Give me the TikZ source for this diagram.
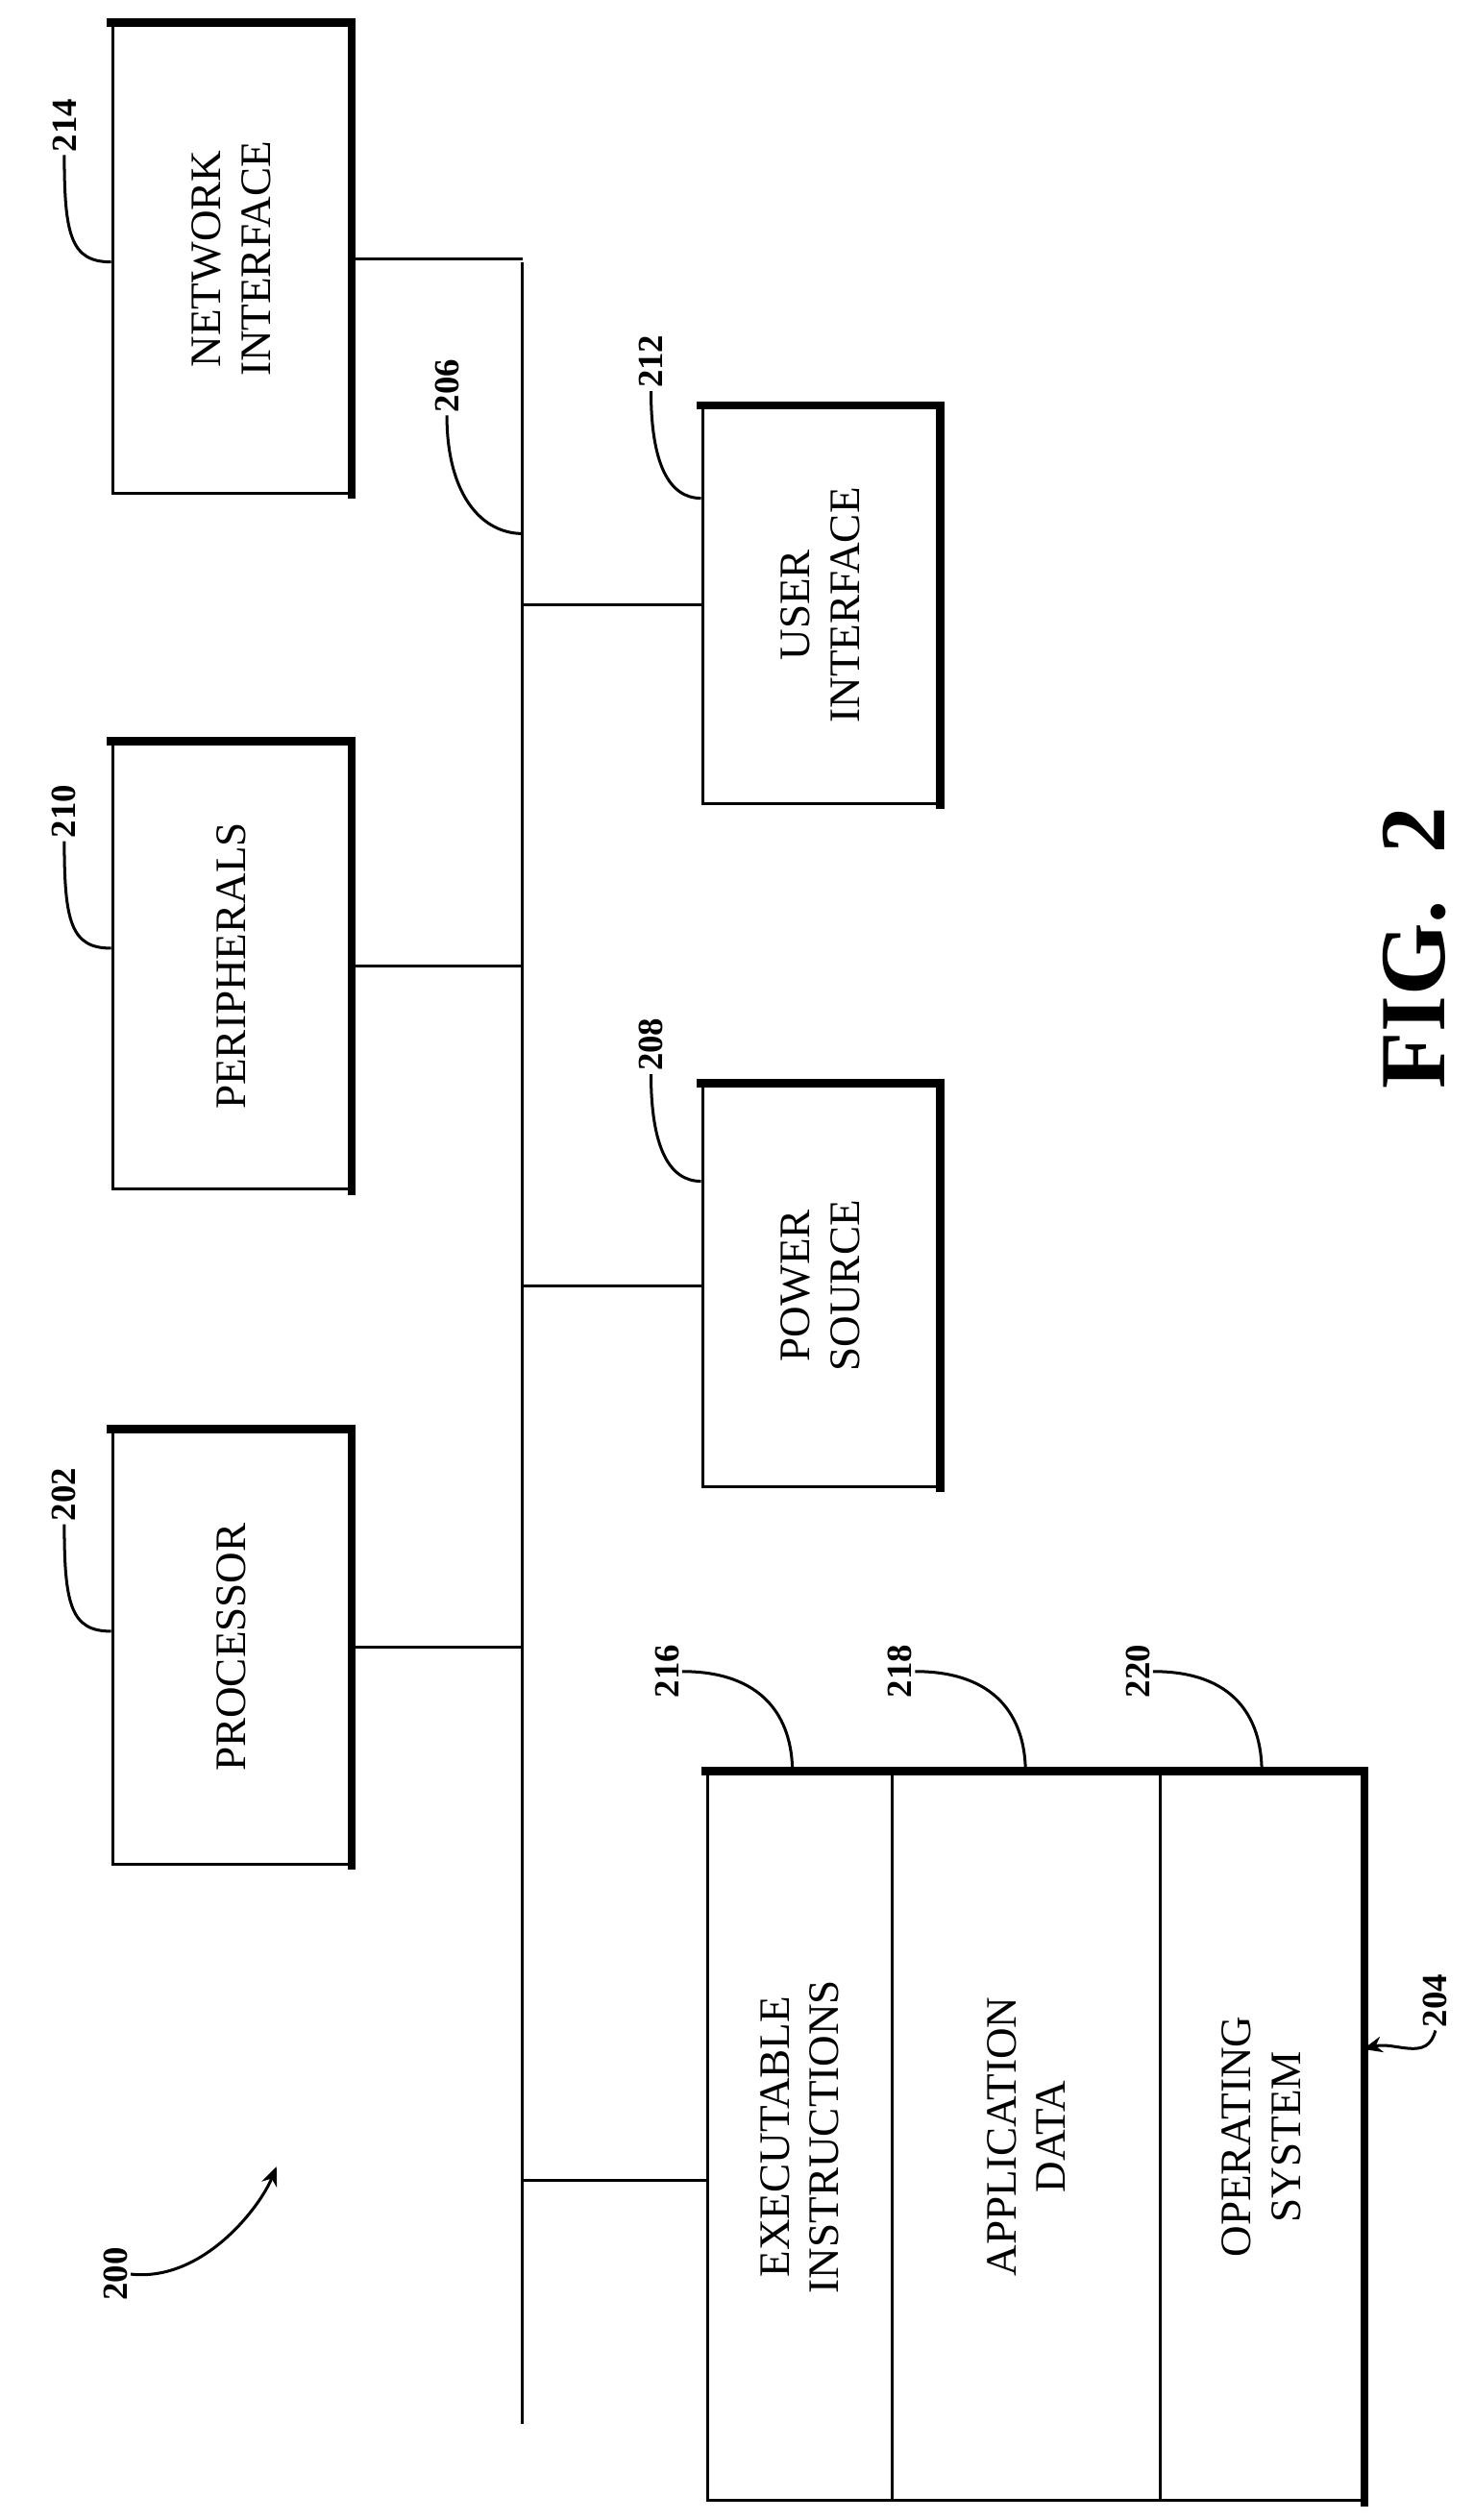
\documentclass[tikz,border=0pt]{standalone}
\usepackage{fontspec}
\setmainfont{Liberation Serif}
\usetikzlibrary{arrows.meta}

\begin{document}
\begin{tikzpicture}[x=1pt, y=-1pt, line width=1.8pt,
        box_style/.style={draw, rectangle, inner sep=0pt, font=\fontsize{27}{31}\selectfont, align=center, rotate=90},
        num_style/.style={font=\bfseries\fontsize{22}{25}\selectfont, rotate=90, inner sep=1pt},
        lead_style/.style={draw, line width=1.8pt},
        heavy_style/.style={draw, line width=5pt, line cap=rect}]

        \useasboundingbox (0,0) rectangle (917,1568);

        % boxes (width/height given before rotation)
        \node [box_style, minimum width=292pt, minimum height=148pt](net) at (144,161) {NETWORK\\INTERFACE};
        \node [box_style, minimum width=278pt, minimum height=148pt](per) at (144,601) {PERIPHERALS};
        \node [box_style, minimum width=270pt, minimum height=148pt](proc) at (144,1025) {PROCESSOR};
        \node [box_style, minimum width=247pt, minimum height=147pt](ui) at (510.5,376.5) {USER\\INTERFACE};
        \node [box_style, minimum width=250pt, minimum height=147pt](pwr) at (510.5,800) {POWER\\SOURCE};
        \node [box_style, minimum width=453pt, minimum height=115pt](ex) at (497.5,1329.5) {EXECUTABLE\\INSTRUCTIONS};
        \node [box_style, minimum width=453pt, minimum height=167pt](app) at (638.5,1329.5) {APPLICATION\\DATA};
        \node [box_style, minimum width=453pt, minimum height=126pt](os) at (785,1329.5) {OPERATING\\SYSTEM};

        % heavy top and right edges
        \foreach \b in {net,per,proc,ui,pwr}
            \draw [heavy_style] (\b.north east) -- (\b.south east) -- (\b.south west);
        \draw [heavy_style] (ex.north east) -- (os.south east) -- (os.south west);

        % bus
        \coordinate (bus_top) at (325,163);
        \coordinate (bus_bot) at (325,1508);
        \draw (bus_top) -- (bus_bot);

        \draw (net.south) -- (net.south -| bus_top);
        \draw (per.south) -- (per.south -| bus_top);
        \draw (proc.south) -- (proc.south -| bus_top);
        \draw (ui.north) -- (ui.north -| bus_top);
        \draw (pwr.north) -- (pwr.north -| bus_top);
        \draw ([yshift=-27pt]ex.north) -- ([yshift=-27pt]ex.north -| bus_top);

        % reference numerals
        \node [num_style](n214) at (40,78) {214};
        \node [num_style](n210) at (40,505) {210};
        \node [num_style](n202) at (40,930) {202};
        \node [num_style](n206) at (278,240) {206};
        \node [num_style](n212) at (405,225) {212};
        \node [num_style](n208) at (405,650) {208};
        \node [num_style](n216) at (415,1040) {216};
        \node [num_style](n218) at (560,1040) {218};
        \node [num_style](n220) at (708,1040) {220};
        \node [num_style](n204) at (893,1245) {204};
        \node [num_style](n200) at (72,1415) {200};
        \node [font=\bfseries\fontsize{58}{62}\selectfont, rotate=90](fig) at (880,590) {FIG.~~2};

        \coordinate (c206) at (325,332);
        \coordinate (c216) at (493,1103);
        \coordinate (c218) at (638,1103);
        \coordinate (c220) at (785,1103);
        \coordinate (c204) at (848,1275);
        \coordinate (c200) at (172,1348);

        \draw [lead_style] (n214.west) .. controls +(0,50) and +(-25,0) .. (net.north |- 0,163);
        \draw [lead_style] (n210.west) .. controls +(0,50) and +(-25,0) .. (per.north |- 0,590);
        \draw [lead_style] (n202.west) .. controls +(0,50) and +(-25,0) .. (proc.north |- 0,1015);
        \draw [lead_style] (n206.west) .. controls +(0,50) and +(-25,0) .. (c206);
        \draw [lead_style] (n212.west) .. controls +(0,45) and +(-20,0) .. (ui.north |- 0,310);
        \draw [lead_style] (n208.west) .. controls +(0,45) and +(-20,0) .. (pwr.north |- 0,735);
        \draw [lead_style] (n216.south) .. controls +(50,0) and +(0,-35) .. (c216);
        \draw [lead_style] (n218.south) .. controls +(50,0) and +(0,-35) .. (c218);
        \draw [lead_style] (n220.south) .. controls +(50,0) and +(0,-35) .. (c220);
        \draw [lead_style, -{Stealth[length=12pt,width=10pt]}] (n204.west) .. controls +(-5,20) and +(20,-5) .. (c204);
        \draw [lead_style, -{Stealth[length=12pt,width=10pt]}] (n200.south) .. controls +(45,5) and +(-10,25) .. (c200);

\end{tikzpicture}
\end{document}
